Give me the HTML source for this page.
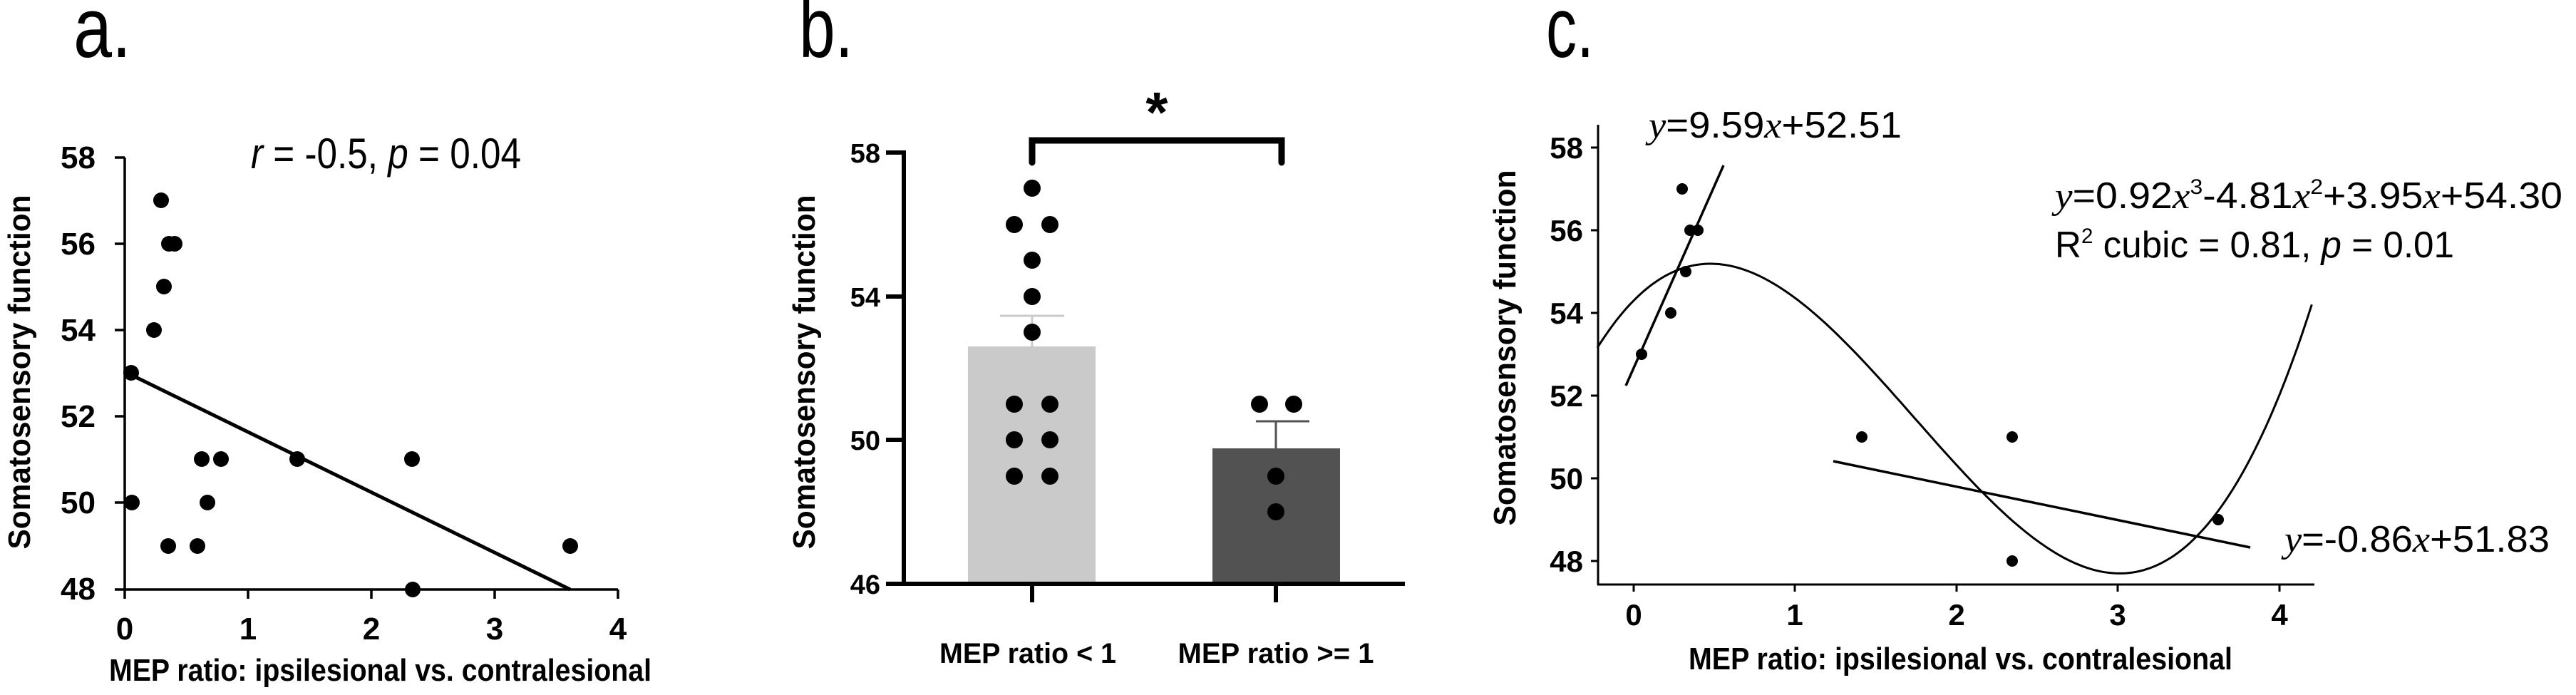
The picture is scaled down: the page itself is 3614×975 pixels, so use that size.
<!DOCTYPE html>
<html><head><meta charset="utf-8"><style>
html,body{margin:0;padding:0;background:#fff;}
svg{display:block;}
.c{font-family:"Liberation Sans",sans-serif;}
</style></head><body>
<svg id="s" width="3614" height="975" viewBox="0 0 3614 975" xmlns="http://www.w3.org/2000/svg">
<g class="c" fill="#000">
<!-- Panel labels -->
<text x="103" y="80" font-size="120" textLength="81" lengthAdjust="spacingAndGlyphs">a.</text>
<text x="1121" y="80" font-size="120" textLength="76" lengthAdjust="spacingAndGlyphs">b.</text>
<text x="2169" y="80" font-size="120" textLength="67" lengthAdjust="spacingAndGlyphs">c.</text>

<!-- ===== Panel a ===== -->
<g stroke="#000" stroke-width="3.5" fill="none">
<line x1="175" y1="221" x2="175" y2="840"/>
<line x1="161" y1="827" x2="867" y2="827"/>
<line x1="161" y1="221" x2="175" y2="221"/>
<line x1="161" y1="342" x2="175" y2="342"/>
<line x1="161" y1="463" x2="175" y2="463"/>
<line x1="161" y1="584" x2="175" y2="584"/>
<line x1="161" y1="705" x2="175" y2="705"/>
<line x1="348" y1="827" x2="348" y2="840"/>
<line x1="521" y1="827" x2="521" y2="840"/>
<line x1="694" y1="827" x2="694" y2="840"/>
<line x1="867" y1="827" x2="867" y2="840"/>
<line x1="176" y1="522" x2="800" y2="827" stroke-width="5"/>
</g>
<g font-weight="bold" font-size="44" text-anchor="end">
<text x="134" y="236">58</text><text x="134" y="357">56</text><text x="134" y="478">54</text>
<text x="134" y="599">52</text><text x="134" y="720">50</text><text x="134" y="841">48</text>
</g>
<g font-weight="bold" font-size="44" text-anchor="middle">
<text x="175" y="897">0</text><text x="348" y="897">1</text><text x="521" y="897">2</text><text x="694" y="897">3</text><text x="867" y="897">4</text>
</g>
<text x="153" y="955" font-weight="bold" font-size="44" textLength="761" lengthAdjust="spacingAndGlyphs">MEP ratio: ipsilesional vs. contralesional</text>
<text transform="translate(42,522) rotate(-90)" text-anchor="middle" font-weight="bold" font-size="44" textLength="497" lengthAdjust="spacingAndGlyphs">Somatosensory function</text>
<text x="352" y="236" font-size="60" textLength="379" lengthAdjust="spacingAndGlyphs"><tspan font-style="italic">r</tspan> = -0.5, <tspan font-style="italic">p</tspan> = 0.04</text>
<g>
<circle cx="226" cy="281" r="11"/><circle cx="237" cy="342" r="11"/><circle cx="245" cy="342" r="11"/>
<circle cx="230" cy="402" r="11"/><circle cx="216" cy="463" r="11"/><circle cx="184" cy="523" r="11"/>
<circle cx="283" cy="644" r="11"/><circle cx="310" cy="644" r="11"/><circle cx="417" cy="644" r="11"/>
<circle cx="578" cy="644" r="11"/><circle cx="185" cy="705" r="11"/><circle cx="291" cy="705" r="11"/>
<circle cx="236" cy="766" r="11"/><circle cx="277" cy="766" r="11"/><circle cx="800" cy="766" r="11"/>
<circle cx="579" cy="827" r="11"/>
</g>

<!-- ===== Panel b ===== -->
<rect x="1358" y="486" width="179" height="333" fill="#cacaca"/>
<rect x="1701" y="629" width="179" height="190" fill="#525252"/>
<g stroke-width="3">
<line x1="1448" y1="486" x2="1448" y2="443" stroke="#cacaca"/>
<line x1="1403" y1="443" x2="1493" y2="443" stroke="#cacaca"/>
<line x1="1790" y1="629" x2="1790" y2="591" stroke="#525252"/>
<line x1="1762" y1="591" x2="1837" y2="591" stroke="#525252"/>
</g>
<g stroke="#000" stroke-width="6" fill="none">
<line x1="1268" y1="211" x2="1268" y2="822"/>
<line x1="1243" y1="819" x2="1971" y2="819"/>
<line x1="1243" y1="214" x2="1268" y2="214"/>
<line x1="1243" y1="416" x2="1268" y2="416"/>
<line x1="1243" y1="617" x2="1268" y2="617"/>
<line x1="1448" y1="819" x2="1448" y2="845"/>
<line x1="1790" y1="819" x2="1790" y2="845"/>
</g>
<path d="M1448,228 L1448,197 L1798,197 L1798,228" stroke="#000" stroke-width="9" fill="none" stroke-linecap="round"/>
<text x="1623" y="185" font-weight="bold" font-size="80" text-anchor="middle">*</text>
<g font-weight="bold" font-size="38" text-anchor="end">
<text x="1235" y="228">58</text><text x="1235" y="430">54</text><text x="1235" y="631">50</text><text x="1235" y="833">46</text>
</g>
<g font-weight="bold" font-size="40" text-anchor="middle">
<text x="1442" y="930" textLength="248" lengthAdjust="spacingAndGlyphs">MEP ratio &lt; 1</text>
<text x="1790" y="930" textLength="275" lengthAdjust="spacingAndGlyphs">MEP ratio &gt;= 1</text>
</g>
<text transform="translate(1143,522) rotate(-90)" text-anchor="middle" font-weight="bold" font-size="44" textLength="497" lengthAdjust="spacingAndGlyphs">Somatosensory function</text>
<g>
<circle cx="1448" cy="264" r="12"/>
<circle cx="1423" cy="315" r="12"/><circle cx="1473" cy="315" r="12"/>
<circle cx="1448" cy="365" r="12"/><circle cx="1448" cy="416" r="12"/><circle cx="1448" cy="466" r="12"/>
<circle cx="1423" cy="567" r="12"/><circle cx="1473" cy="567" r="12"/>
<circle cx="1423" cy="617" r="12"/><circle cx="1473" cy="617" r="12"/>
<circle cx="1423" cy="668" r="12"/><circle cx="1473" cy="668" r="12"/>
<circle cx="1767" cy="567" r="12"/><circle cx="1815" cy="567" r="12"/>
<circle cx="1790" cy="668" r="12"/><circle cx="1790" cy="718" r="12"/>
</g>

<!-- ===== Panel c ===== -->
<g stroke="#000" stroke-width="3" fill="none">
<line x1="2242" y1="175" x2="2242" y2="821"/>
<line x1="2241" y1="820" x2="3247" y2="820"/>
<line x1="2232" y1="207" x2="2242" y2="207"/>
<line x1="2232" y1="323" x2="2242" y2="323"/>
<line x1="2232" y1="439" x2="2242" y2="439"/>
<line x1="2232" y1="555" x2="2242" y2="555"/>
<line x1="2232" y1="671" x2="2242" y2="671"/>
<line x1="2232" y1="787" x2="2242" y2="787"/>
<line x1="2292" y1="820" x2="2292" y2="830"/>
<line x1="2518" y1="820" x2="2518" y2="830"/>
<line x1="2745" y1="820" x2="2745" y2="830"/>
<line x1="2971" y1="820" x2="2971" y2="830"/>
<line x1="3198" y1="820" x2="3198" y2="830"/>
<line x1="2281" y1="541" x2="2418" y2="232" stroke-width="3.5"/>
<line x1="2572" y1="647" x2="3157" y2="768" stroke-width="3.5"/>
<path id="cub" d=""/>
</g>
<g font-weight="bold" font-size="42" text-anchor="end">
<text x="2221" y="222">58</text><text x="2221" y="338">56</text><text x="2221" y="454">54</text>
<text x="2221" y="570">52</text><text x="2221" y="686">50</text><text x="2221" y="802">48</text>
</g>
<g font-weight="bold" font-size="42" text-anchor="middle">
<text x="2292" y="877">0</text><text x="2518" y="877">1</text><text x="2745" y="877">2</text><text x="2971" y="877">3</text><text x="3198" y="877">4</text>
</g>
<text x="2369" y="939" font-weight="bold" font-size="44" textLength="763" lengthAdjust="spacingAndGlyphs">MEP ratio: ipsilesional vs. contralesional</text>
<text transform="translate(2126,488) rotate(-90)" text-anchor="middle" font-weight="bold" font-size="44" textLength="499" lengthAdjust="spacingAndGlyphs">Somatosensory function</text>
<g font-size="52">
<text x="2313" y="193" textLength="355" lengthAdjust="spacingAndGlyphs"><tspan font-style="italic" font-family="Liberation Serif">y</tspan>=9.59<tspan font-style="italic" font-family="Liberation Serif">x</tspan>+52.51</text>
<text x="2883" y="292" textLength="712" lengthAdjust="spacingAndGlyphs"><tspan font-style="italic" font-family="Liberation Serif">y</tspan>=0.92<tspan font-style="italic" font-family="Liberation Serif">x</tspan><tspan font-size="30" dy="-20">3</tspan><tspan dy="20">-4.81</tspan><tspan font-style="italic" font-family="Liberation Serif">x</tspan><tspan font-size="30" dy="-20">2</tspan><tspan dy="20">+3.95</tspan><tspan font-style="italic" font-family="Liberation Serif">x</tspan>+54.30</text>
<text x="2883" y="361" textLength="560" lengthAdjust="spacingAndGlyphs">R<tspan font-size="30" dy="-20">2</tspan><tspan dy="20"> cubic = 0.81, </tspan><tspan font-style="italic">p</tspan> = 0.01</text>
<text x="3205" y="774" textLength="372" lengthAdjust="spacingAndGlyphs"><tspan font-style="italic" font-family="Liberation Serif">y</tspan>=-0.86<tspan font-style="italic" font-family="Liberation Serif">x</tspan>+51.83</text>
</g>
<g>
<circle cx="2303" cy="497" r="8"/><circle cx="2344" cy="439" r="8"/><circle cx="2360" cy="265" r="8"/>
<circle cx="2365" cy="381" r="8"/><circle cx="2371" cy="323" r="8"/><circle cx="2382" cy="323" r="8"/>
<circle cx="2612" cy="613" r="8"/><circle cx="2823" cy="613" r="8"/><circle cx="2823" cy="787" r="8"/>
<circle cx="3112" cy="729" r="8"/>
</g>
</g>
</svg>
<script>
var d="";
for(var i=0;i<=200;i++){var x=-0.225+i*(4.2+0.225)/200;var y=0.92*x*x*x-4.81*x*x+3.95*x+54.30;
var px=2292+226.5*x, py=207+58*(58-y); d+=(i?"L":"M")+px.toFixed(1)+","+py.toFixed(1);}
document.getElementById("cub").setAttribute("d",d);
</script>
</body></html>
